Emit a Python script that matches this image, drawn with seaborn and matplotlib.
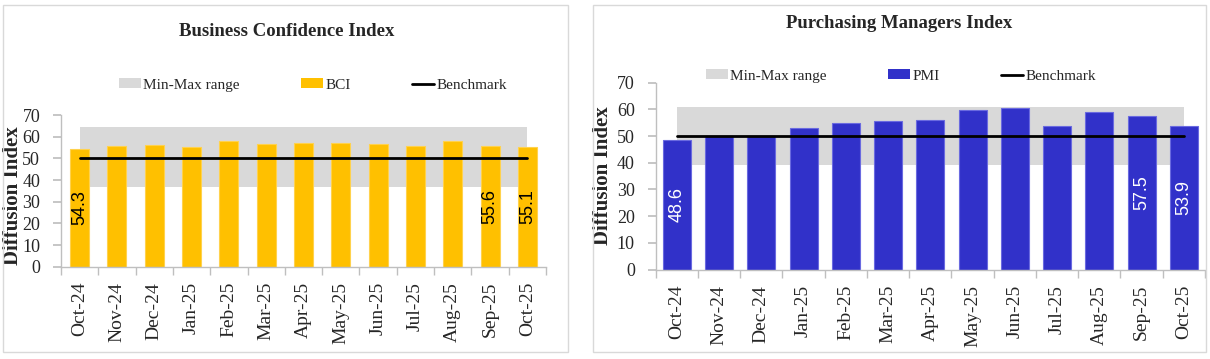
import matplotlib
matplotlib.use("Agg")
import matplotlib.pyplot as plt
import seaborn as sns
import pandas as pd
from matplotlib.patches import Patch, Rectangle
from matplotlib.lines import Line2D
from matplotlib.ticker import FixedLocator

# ---------------- data ----------------
months = ["Oct-24", "Nov-24", "Dec-24", "Jan-25", "Feb-25", "Mar-25", "Apr-25",
          "May-25", "Jun-25", "Jul-25", "Aug-25", "Sep-25", "Oct-25"]
bci = [54.3, 55.8, 56.3, 55.4, 58.1, 56.4, 56.9, 57.2, 56.7, 55.6, 57.8, 55.6, 55.1]
bci_min = [36.9] * 13
bci_max = [64.3] * 13
pmi = [48.6, 49.9, 49.9, 53.1, 54.8, 55.8, 56.1, 59.6, 60.5, 53.8, 59.1, 57.5, 53.9]
pmi_min = [39.1] * 13
pmi_max = [60.8] * 13
benchmark = [50] * 13
bci_labels = ["54.3", "", "", "", "", "", "", "", "", "", "", "55.6", "55.1"]
pmi_labels = ["48.6", "", "", "", "", "", "", "", "", "", "", "57.5", "53.9"]

sns.set_theme(style="white")
plt.rcParams["font.family"] = ["Liberation Serif", "DejaVu Serif"]

W, H = 1210, 359
fig = plt.figure(figsize=(W / 100, H / 100), dpi=100)

GRAY = "#D9D9D9"
SPINE = "#BFBFBF"


def px_rect(x0, y0, x1, y1):
    return [x0 / W, 1 - y1 / H, (x1 - x0) / W, (y1 - y0) / H]


# panel borders
for (x0, x1) in [(3, 568), (593, 1206)]:
    fig.patches.append(Rectangle((x0 / W, 1 - 352 / H), (x1 - x0) / W, (352 - 5) / H,
                                 transform=fig.transFigure, fill=False,
                                 edgecolor=GRAY, linewidth=1.0))


def draw(ax, values, vmin, vmax, color, edge, width, labels, lab_color,
         title, title_xy, leg_name, leg_xy, ylab_x, ylab_y):
    df = pd.DataFrame({"month": months, "value": values})
    x = list(range(len(months)))
    ax.fill_between(x, vmin, vmax, color=GRAY, linewidth=0, zorder=0)
    sns.barplot(data=df, x="month", y="value", color=color, width=width,
                edgecolor=edge, linewidth=0.8, saturation=1, ax=ax, zorder=2)
    ax.plot(x, benchmark, color="black", linewidth=2, zorder=4)
    ax.bar_label(ax.containers[0], labels=labels, label_type="center",
                 rotation=90, fontsize=13, color=lab_color,
                 family="Liberation Sans")
    ax.set_ylim(0, 70)
    ax.set_xlim(-0.5, len(months) - 0.5)
    ax.set_yticks(range(0, 71, 10))
    ax.tick_params(axis="y", labelsize=13, length=6, color=SPINE, pad=9,
                   left=True, direction="out")
    ax.tick_params(axis="x", which="major", labelsize=14, length=0, pad=11,
                   labelrotation=90)
    ax.xaxis.set_minor_locator(FixedLocator([i - 0.5 for i in range(len(months) + 1)]))
    ax.tick_params(axis="x", which="minor", length=6, color=SPINE, bottom=True,
                   direction="out")
    for s in ["top", "right"]:
        ax.spines[s].set_visible(False)
    for s in ["left", "bottom"]:
        ax.spines[s].set_color(SPINE)
        ax.spines[s].set_linewidth(1)
    ax.set_xlabel("")
    ax.set_ylabel("Diffusion Index", fontsize=15, fontweight="bold")
    ax.yaxis.set_label_coords(ylab_x, ylab_y)
    fig.text(title_xy[0] / W, 1 - title_xy[1] / H, title, ha="center", va="center",
             fontsize=13.5, fontweight="bold")
    handles = [Patch(facecolor=GRAY, edgecolor="none"),
               Patch(facecolor=color, edgecolor="none"),
               Line2D([0], [0], color="black", linewidth=2)]
    fig.legend(handles, ["Min-Max range", leg_name, "Benchmark"], loc="center",
               bbox_to_anchor=(leg_xy[0] / W, 1 - leg_xy[1] / H), ncol=3,
               frameon=False, fontsize=11, handlelength=1.45, handleheight=0.6,
               handletextpad=0.15, columnspacing=4.0)


ax1 = fig.add_axes(px_rect(61, 115, 546, 266.7))
draw(ax1, bci, bci_min, bci_max, "#FFC000", "#FFD24D", 0.51, bci_labels, "black",
     "Business Confidence Index", (287, 31), "BCI", (313, 85), -0.078, 0.466)

ax2 = fig.add_axes(px_rect(655.7, 82.7, 1205, 269.5))
draw(ax2, pmi, pmi_min, pmi_max, "#3131C9", "#6A6AE0", 0.66, pmi_labels, "white",
     "Purchasing Managers Index", (899, 23), "PMI", (901, 76), -0.078, 0.503)

fig.savefig("out.png", dpi=100)
